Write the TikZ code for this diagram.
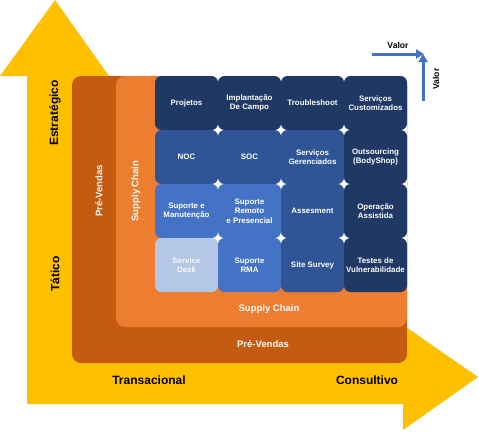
\documentclass[tikz,border=0pt]{standalone}
\usepackage{fontspec}
\setmainfont{Liberation Sans}
\usetikzlibrary{arrows.meta}
\definecolor{navy}{HTML}{1F3864}
\definecolor{midblue}{HTML}{2F5597}
\definecolor{lightblue}{HTML}{4472C4}
\definecolor{paleblue}{HTML}{B4C7E7}
\definecolor{darkorange}{HTML}{C55A11}
\definecolor{orangeb}{HTML}{ED7D31}
\definecolor{yell}{HTML}{FFC000}
\tikzset{
  tile/.style={rounded corners=6.5pt, minimum width=63pt, minimum height=54pt, inner sep=1pt,
    align=center, text=white, font=\fontsize{7.9}{9.4}\selectfont\bfseries},
  axislab/.style={font=\fontsize{12}{14}\selectfont\bfseries, text=black},
  bandlab/.style={font=\fontsize{9.5}{11}\selectfont\bfseries, text=white},
  valorlab/.style={font=\fontsize{8.6}{10}\selectfont\bfseries, text=black},
  valorarrow/.style={draw=lightblue, line width=3pt, -{Triangle[length=8pt,width=9pt]}}
}
\begin{document}
\begin{tikzpicture}[x=1pt,y=-1pt]
\useasboundingbox (0,0) rectangle (479,431);
% yellow L arrow
\fill[yell] (27,404) -- (27,76) -- (0,76) -- (55,0) -- (109,76) -- (90,76) -- (90,340)
  -- (403,340) -- (403,325) -- (478,377) -- (403,430) -- (403,404) -- cycle;
% bands
\fill[darkorange, rounded corners=9pt] (72,76) rectangle (407,363);
\fill[orangeb, rounded corners=9pt] (116,76) rectangle (407,327);
% white backdrop (shows as sparkles between tiles)
\fill[white] (163,76) rectangle (407,285);
% tiles
\node[tile, fill=navy] (projetos) at (186.5,103) {Projetos};
\node[tile, fill=navy] (implant) at (249.5,103) {Implantação\\De Campo};
\node[tile, fill=navy] (trouble) at (312.5,103) {Troubleshoot};
\node[tile, fill=navy] (custom) at (375.5,103) {Serviços\\Customizados};
\node[tile, fill=midblue] (noc) at (186.5,157) {NOC};
\node[tile, fill=midblue] (soc) at (249.5,157) {SOC};
\node[tile, fill=midblue] (gerenc) at (312.5,157) {Serviços\\Gerenciados};
\node[tile, fill=navy] (outs) at (375.5,157) {Outsourcing\\(BodyShop)};
\node[tile, fill=lightblue] (manut) at (186.5,211) {Suporte e\\Manutenção};
\node[tile, fill=lightblue] (remoto) at (249.5,211) {Suporte\\Remoto\\e Presencial};
\node[tile, fill=midblue] (assess) at (312.5,211) {Assesment};
\node[tile, fill=navy] (operacao) at (375.5,211) {Operação\\Assistida};
\node[tile, fill=paleblue, text=white!92!paleblue] (desk) at (186.5,265) {Service\\Desk};
\node[tile, fill=lightblue] (rma) at (249.5,265) {Suporte\\RMA};
\node[tile, fill=midblue] (survey) at (312.5,265) {Site Survey};
\node[tile, fill=navy] (testes) at (375.5,265) {Testes de\\Vulnerabilidade};
% band labels
\node[bandlab, rotate=90] (pvv) at (99,191) {Pré-Vendas};
\node[bandlab, rotate=90] (scv) at (136,191) {Supply Chain};
\node[bandlab] (sch) at (269,309) {Supply Chain};
\node[bandlab] (pvh) at (263,344) {Pré-Vendas};
% axis labels
\node[axislab, rotate=90] (estr) at (55,113) {Estratégico};
\node[axislab, rotate=90] (tat) at (55,274) {Tático};
\node[axislab] (trans) at (149,380) {Transacional};
\node[axislab] (cons) at (367,380) {Consultivo};
% valor arrows
\coordinate (vh0) at (372,54);
\coordinate (vh1) at (424,54);
\coordinate (vv0) at (423,101);
\coordinate (vv1) at (423,54);
\draw[valorarrow] (vh0) -- (vh1);
\draw[valorarrow] (vv0) -- (vv1);
\node[valorlab] (valh) at (398,45) {Valor};
\node[valorlab, rotate=90] (valv) at (436,79) {Valor};
\end{tikzpicture}
\end{document}
